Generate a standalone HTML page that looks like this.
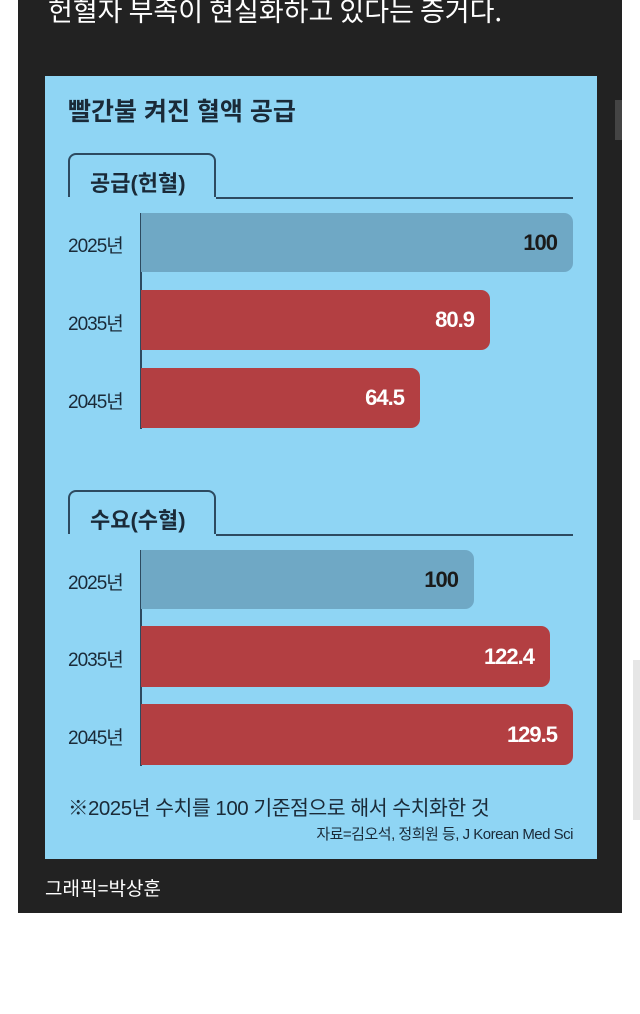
<!DOCTYPE html>
<html><head><meta charset="utf-8"><style>
body{margin:0;width:640px;height:1014px;background:#fff;position:relative;overflow:hidden;font-family:"Liberation Sans","Noto Sans CJK KR",sans-serif}
.a{position:absolute}
.panel{left:18px;top:0;width:604px;height:913px;background:#222}
.box{left:45px;top:76px;width:552px;height:783px;background:#8fd5f4}
.bar{position:absolute;left:141px;border-radius:0 9px 9px 0;color:#fff;font-weight:bold;font-size:22px;text-align:right;box-sizing:border-box;padding-right:16px;letter-spacing:-1px;font-family:"Liberation Sans Narrow","Liberation Sans",sans-serif}
.b{background:#6fa8c5;color:#1a1a1a}
.r{background:#b33f42}
.yl{position:absolute;left:68px;font-size:19px;color:#1a2a38;letter-spacing:-1px;font-family:"Liberation Sans Narrow","Liberation Sans","Noto Sans CJK KR",sans-serif}
.tab{position:absolute;left:68px;width:148px;height:44px;border:2px solid #2d4a60;border-bottom:none;border-radius:8px 8px 0 0;box-sizing:border-box;font-size:22px;font-weight:bold;color:#1a2a38;padding:11px 0 0 20px}
.line{position:absolute;left:216px;width:357px;height:2px;background:#2d4a60}
.axis{position:absolute;left:140px;width:2px;background:#2d4a60}
</style></head><body>
<div class="a panel"></div>
<div class="a" style="left:48px;top:-10px;color:#fff;font-size:27px;font-family:'Noto Sans CJK KR',sans-serif">헌혈자 부족이 현실화하고 있다는 증거다.</div>
<div class="a" style="left:615px;top:100px;width:7px;height:40px;background:#444"></div>
<div class="a" style="left:633px;top:660px;width:7px;height:160px;background:#e6e6e6"></div>
<div class="a box"></div>
<div class="a" style="left:68px;top:92px;font-size:25px;font-weight:bold;color:#1a2a38">빨간불 켜진 혈액 공급</div>

<div class="tab" style="top:153px">공급(헌혈)</div>
<div class="line" style="top:197px"></div>
<div class="axis" style="top:213px;height:216px"></div>
<div class="yl" style="top:231px">2025년</div>
<div class="yl" style="top:309px">2035년</div>
<div class="yl" style="top:387px">2045년</div>
<div class="bar b" style="top:213px;width:432px;height:59px;line-height:59px">100</div>
<div class="bar r" style="top:290px;width:349px;height:60px;line-height:60px">80.9</div>
<div class="bar r" style="top:368px;width:279px;height:60px;line-height:60px">64.5</div>

<div class="tab" style="top:490px">수요(수혈)</div>
<div class="line" style="top:534px"></div>
<div class="axis" style="top:550px;height:216px"></div>
<div class="yl" style="top:568px">2025년</div>
<div class="yl" style="top:645px">2035년</div>
<div class="yl" style="top:723px">2045년</div>
<div class="bar b" style="top:550px;width:333px;height:59px;line-height:59px">100</div>
<div class="bar r" style="top:626px;width:409px;height:61px;line-height:61px">122.4</div>
<div class="bar r" style="top:704px;width:432px;height:61px;line-height:61px">129.5</div>

<div class="a" style="left:68px;top:791px;font-size:20.5px;color:#1a2a38;letter-spacing:-0.5px">※2025년 수치를 100 기준점으로 해서 수치화한 것</div>
<div class="a" style="left:280px;top:823px;width:293px;text-align:right;font-size:15px;color:#1a2a38;letter-spacing:-0.5px">자료=김오석, 정희원 등, J Korean Med Sci</div>
<div class="a" style="left:45px;top:874px;color:#fff;font-size:19px">그래픽=박상훈</div>
</body></html>
